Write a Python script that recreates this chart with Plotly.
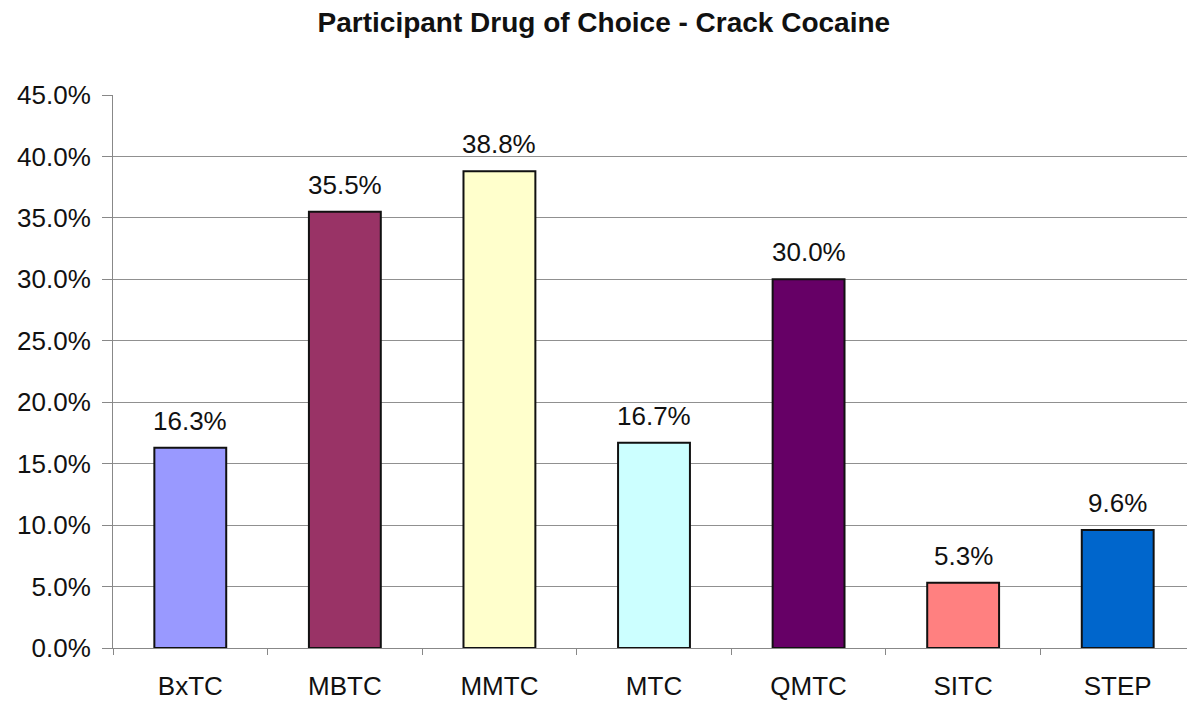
import plotly.graph_objects as go

programs = ["BxTC", "MBTC", "MMTC", "MTC", "QMTC", "SITC", "STEP"]
crack_pct = [16.3, 35.5, 38.8, 16.7, 30.0, 5.3, 9.6]
bar_colors = ["#9999FF", "#993366", "#FFFFCC", "#CCFFFF", "#660066", "#FF8080", "#0066CC"]
y_ticks = [0, 5, 10, 15, 20, 25, 30, 35, 40, 45]

fig = go.Figure()

fig.add_trace(go.Bar(
    x=programs,
    y=crack_pct,
    marker=dict(color=bar_colors, line=dict(color="#111111", width=2)),
))

# value labels above the bars, lifted a little like the original
for name, val in zip(programs, crack_pct):
    fig.add_annotation(x=name, y=val, text="%.1f%%" % val, showarrow=False,
                       yanchor="bottom", yshift=10,
                       font=dict(family="Liberation Sans, Arial", size=26, color="#111111"))

# page body has an 8px margin, so the figure is a bit smaller than the window
fig.update_layout(
    width=1187, height=694,
    margin=dict(l=105, r=0, t=87, b=54),
    paper_bgcolor="white", plot_bgcolor="white",
    showlegend=False,
    bargap=0.535,
    title=dict(text="<b>Participant Drug of Choice - Crack Cocaine</b>",
               x=0.502, xanchor="center", y=0.98, yanchor="middle",
               font=dict(family="Liberation Sans, Arial", size=28, color="#111111")),
    font=dict(family="Liberation Sans, Arial", size=26, color="#111111"),
    xaxis=dict(
        automargin=False,
        showline=True, linecolor="#888888", linewidth=1,
        ticks="outside", tickson="boundaries", ticklen=6, tickcolor="#888888",
        showgrid=False,
        ticklabelstandoff=15,
        tickfont=dict(size=26),
    ),
    yaxis=dict(
        automargin=False,
        range=[0, 45],
        tickvals=y_ticks,
        ticktext=["%.1f%%" % v for v in y_ticks],
        showgrid=True, gridcolor="#909090", gridwidth=1,
        showline=True, linecolor="#888888", linewidth=1,
        ticks="outside", ticklen=10, tickcolor="#888888",
        ticklabelstandoff=6,
        zeroline=False,
        tickfont=dict(size=26),
    ),
)

fig.write_html("out.html")
